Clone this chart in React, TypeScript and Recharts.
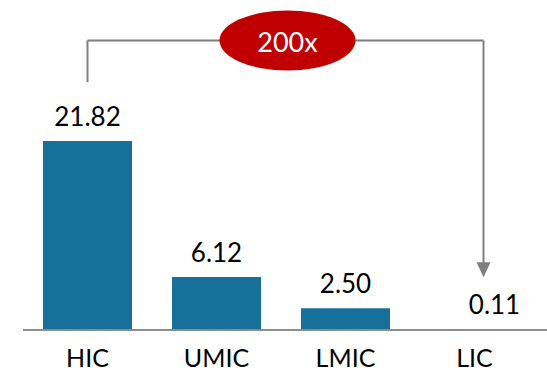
import React from "react";
import {
  BarChart,
  Bar,
  XAxis,
  YAxis,
  LabelList,
  ReferenceLine,
} from "recharts";

// income groups and their values
const groups = ["HIC", "UMIC", "LMIC", "LIC"];
const values = [21.82, 6.12, 2.5, 0.11];
const ratioLabel = "200x";

// bracket levels (in value units) for the HIC -> LIC comparison
const bracketTop = 33.4;
const bracketLeftEnd = 28.6;
const bracketArrowEnd = 6.1;

const data = groups.map((g, i) => ({ group: g, value: values[i] }));

const FONT = "Lato, 'Open Sans', sans-serif";
const BAR = "#17709a";
const GREY = "#7f7f7f";
const RED = "#c00000";
const RIGHT_SHIFT = 9; // arrow sits a little right of the LIC slot

function ValueLabel(props: any) {
  const { x, y, width, value, index } = props;
  const shift = index === groups.length - 1 ? 20 : 0;
  return (
    <text
      x={x + width / 2 + shift}
      y={y - 15}
      textAnchor="middle"
      fontFamily={FONT}
      fontSize={26}
      fill="#000"
    >
      {Number(value).toFixed(2)}
    </text>
  );
}

function TopSegment(props: any) {
  const { x1, y1, x2 } = props;
  const xr = x2 + RIGHT_SHIFT;
  const mid = (x1 + xr) / 2 + 2;
  return (
    <g>
      <line x1={x1} y1={y1} x2={xr} y2={y1} stroke={GREY} strokeWidth={2} />
      <ellipse cx={mid} cy={y1} rx={68} ry={30} fill={RED} />
      <text
        x={mid}
        y={y1 + 11}
        textAnchor="middle"
        fontFamily={FONT}
        fontSize={27}
        fill="#fff"
      >
        {ratioLabel}
      </text>
    </g>
  );
}

function ArrowSegment(props: any) {
  const { x1, y1, y2 } = props;
  const x = x1 + RIGHT_SHIFT;
  return (
    <g>
      <line x1={x} y1={y1} x2={x} y2={y2 - 14} stroke={GREY} strokeWidth={2} />
      <polygon
        points={`${x - 7},${y2 - 15} ${x + 7},${y2 - 15} ${x},${y2}`}
        fill={GREY}
      />
    </g>
  );
}

function AxisBase(props: any) {
  const { x1, y1, x2 } = props;
  return <line x1={x1} y1={y1} x2={x2 + 8} y2={y1} stroke="#8c8c8c" strokeWidth={2} />;
}

export default function App() {
  return (
    <div style={{ width: 547, height: 371 }}>
      <style>{`body{margin:0}`}</style>
      <BarChart
        width={547}
        height={371}
        data={data}
        margin={{ top: 18, right: 8, bottom: 0, left: 23 }}
      >
        <XAxis
          dataKey="group"
          height={41}
          axisLine={false}
          tickLine={false}
          tickSize={0}
          tickMargin={19}
          tick={{ fill: "#000", fontSize: 25, fontFamily: FONT }}
          interval={0}
        />
        <YAxis hide domain={[0, 36]} />
        <Bar dataKey="value" fill={BAR} barSize={89} isAnimationActive={false}>
          <LabelList dataKey="value" content={<ValueLabel />} />
        </Bar>
        <ReferenceLine y={0} shape={<AxisBase />} ifOverflow="visible" />
        <ReferenceLine
          segment={[
            { x: "HIC", y: bracketLeftEnd },
            { x: "HIC", y: bracketTop },
          ]}
          stroke={GREY}
          strokeWidth={2}
          ifOverflow="visible"
        />
        <ReferenceLine
          segment={[
            { x: "LIC", y: bracketTop },
            { x: "LIC", y: bracketArrowEnd },
          ]}
          shape={<ArrowSegment />}
          ifOverflow="visible"
        />
        <ReferenceLine
          segment={[
            { x: "HIC", y: bracketTop },
            { x: "LIC", y: bracketTop },
          ]}
          shape={<TopSegment />}
          ifOverflow="visible"
        />
      </BarChart>
    </div>
  );
}
